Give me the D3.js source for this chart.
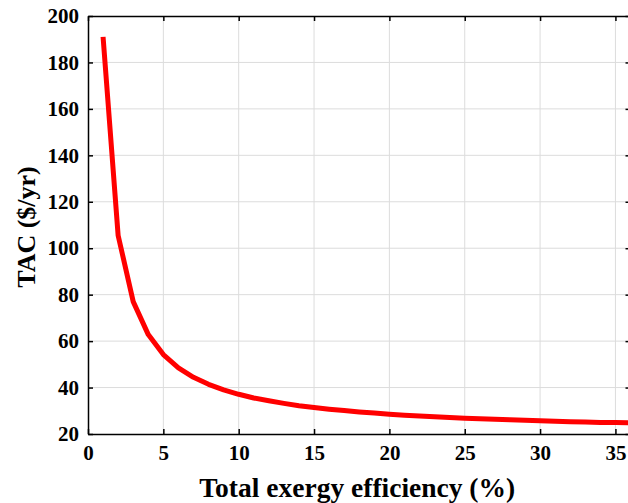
<!DOCTYPE html>
<html>
<head>
<meta charset="utf-8">
<script src="https://cdn.jsdelivr.net/npm/d3@7"></script>
<style>
  body { margin: 0; background: #fff; }
  .label { font-family: "Liberation Serif", "Times New Roman", serif; font-weight: bold; fill: #000; }
  .grid line { stroke: #dcdcdc; stroke-width: 1; }
</style>
</head>
<body>
<div id="chart"></div>
<script>
// efficiency (%) vs TAC ($/yr)
let efficiency = [1, 2, 3, 4, 5, 6, 7, 8, 9, 10, 11, 12, 13, 14, 15, 16, 17, 18,
                  19, 20, 21, 22, 23, 24, 25, 26, 27, 28, 29, 30, 31, 32, 33, 34, 35, 36];
let tac = [191, 105.5, 77, 62.8, 54.2, 48.5, 44.4, 41.4, 39, 37.1, 35.5, 34.3, 33.2, 32.2, 31.4, 30.7, 30.1, 29.5,
           29, 28.5, 28.1, 27.8, 27.4, 27.1, 26.8, 26.6, 26.3, 26.1, 25.9, 25.7, 25.5, 25.3, 25.2, 25, 24.9, 24.8];
let xTicks = [0, 5, 10, 15, 20, 25, 30, 35];
let yTicks = [20, 40, 60, 80, 100, 120, 140, 160, 180, 200];

let totalWidth = 628, totalHeight = 503;
let margin = {top: 16, left: 88, bottom: 434, right: 630.5};

let svg = d3.select("#chart").append("svg")
    .attr("width", totalWidth)
    .attr("height", totalHeight);

let xScale = d3.scaleLinear().domain([0, 36]).range([margin.left, margin.right]);
let yScale = d3.scaleLinear().domain([20, 200]).range([margin.bottom, margin.top]);

// grid
let grid = svg.append("g").attr("class", "grid");
grid.selectAll("line.v")
    .data(xTicks.filter(d => d > 0))
    .enter().append("line")
    .attr("x1", d => xScale(d)).attr("x2", d => xScale(d))
    .attr("y1", margin.top).attr("y2", margin.bottom);
grid.selectAll("line.h")
    .data(yTicks.filter(d => d > 20 && d < 200))
    .enter().append("line")
    .attr("x1", margin.left).attr("x2", margin.right)
    .attr("y1", d => yScale(d)).attr("y2", d => yScale(d));

// axes, ticks pointing inward
let xAxis = d3.axisBottom(xScale).tickValues(xTicks).tickSizeInner(-5).tickSizeOuter(0).tickPadding(11);
let yAxis = d3.axisLeft(yScale).tickValues(yTicks).tickSizeInner(-5).tickSizeOuter(0).tickPadding(9);

let gx = svg.append("g")
    .attr("transform", "translate(0," + margin.bottom + ")")
    .call(xAxis);
let gy = svg.append("g")
    .attr("transform", "translate(" + margin.left + ",0)")
    .call(yAxis);
svg.append("g")
    .attr("transform", "translate(0," + margin.top + ")")
    .call(d3.axisTop(xScale).tickValues(xTicks).tickSizeInner(-5).tickSizeOuter(0).tickFormat(""));
svg.append("g")
    .attr("transform", "translate(" + margin.right + ",0)")
    .call(d3.axisRight(yScale).tickValues(yTicks).tickSizeInner(-5).tickSizeOuter(0).tickFormat(""));

[gx, gy].forEach(g => g
    .attr("font-family", "Liberation Serif, serif")
    .attr("font-weight", "bold")
    .attr("font-size", 21));

svg.selectAll(".domain").attr("stroke", "#000").attr("stroke-width", 1.5);
svg.selectAll(".tick line").attr("stroke", "#000").attr("stroke-width", 1.5);
svg.selectAll(".tick text").attr("fill", "#000");

// curve
let line = d3.line()
    .x((d, i) => xScale(efficiency[i]))
    .y(d => yScale(d));

svg.append("path")
    .datum(tac)
    .attr("fill", "none")
    .attr("stroke", "#ff0000")
    .attr("stroke-width", 5)
    .attr("stroke-linejoin", "round")
    .attr("d", line);

// labels
svg.append("text")
    .attr("class", "label")
    .attr("x", (margin.left + margin.right) / 2 - 2)
    .attr("y", 497)
    .attr("text-anchor", "middle")
    .style("font-size", "27.5px")
    .text("Total exergy efficiency (%)");

svg.append("text")
    .attr("class", "label")
    .attr("transform", "translate(35," + ((margin.top + margin.bottom) / 2 + 2) + ") rotate(-90)")
    .attr("text-anchor", "middle")
    .style("font-size", "26px")
    .text("TAC ($/yr)");
</script>
</body>
</html>
